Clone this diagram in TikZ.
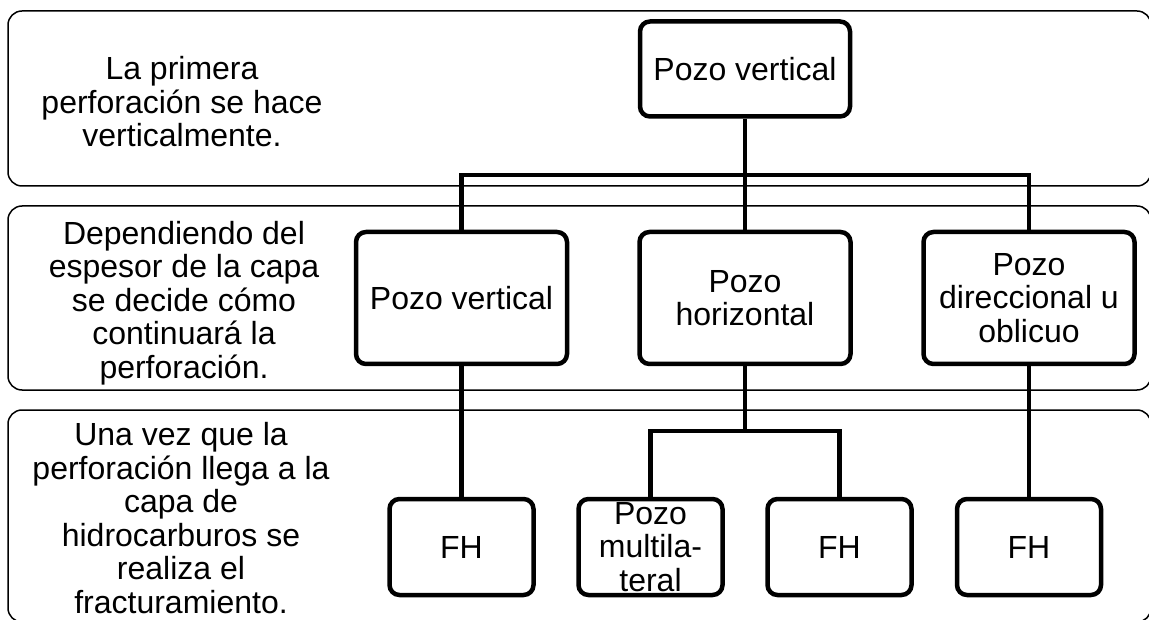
\documentclass[tikz,border=0pt]{standalone}
\usepackage{fontspec}
\setmainfont{Liberation Sans}
\usetikzlibrary{positioning}

\begin{document}
\begin{tikzpicture}[
  x=1pt, y=-1pt,
  band/.style={draw, line width=1.5pt, rounded corners=14pt},
  note/.style={align=center, font=\fontsize{32}{33.5}\selectfont},
  well/.style={draw, line width=4.5pt, rounded corners=10pt, align=center, inner sep=0pt,
    font=\fontsize{32}{33.5}\selectfont},
  wide/.style={well, minimum width=211pt, minimum height=132pt},
  small/.style={well, minimum width=144pt, minimum height=96pt},
  conn/.style={line width=4.5pt}
]
\clip (0,0) rectangle (1149,620);
% bandas de fondo
\draw[band] (8,11) rectangle (1151,186);
\draw[band] (8,206) rectangle (1151,390);
\draw[band] (8,410) rectangle (1151,622);
% textos de la izquierda
\node[note] (t1) at (182,102) {La primera\\perforación se hace\\verticalmente.};
\node[note] (t2) at (184,303) {Dependiendo del\\espesor de la capa\\se decide cómo\\continuará la\\perforación.};
\node[note] (t3) at (181,518) {Una vez que la\\perforación llega a la\\capa de\\hidrocarburos se\\realiza el\\fracturamiento.};
% pozos
\node[well, minimum width=210pt, minimum height=95pt] (top) at (745,69) {Pozo vertical};
\node[wide] (mv) at (461.5,298) {Pozo vertical};
\node[wide] (mh) at (745,298) {Pozo\\horizontal};
\node[wide] (md) at (1029,298) {Pozo\\direccional u\\oblicuo};
\node[small] (fh1) at (461.5,547) {FH};
\node[small] (ml) at (650.5,547) {Pozo\\multila-\\teral};
\node[small] (fh2) at (839.5,547) {FH};
\node[small] (fh3) at (1029,547) {FH};
% conexiones
\coordinate (j1) at (745,175);
\coordinate (j2) at (745,431);
\draw[conn] (top.south) -- (j1);
\draw[conn] (mv.north) |- (j1) -| (md.north);
\draw[conn] (j1) -- (mh.north);
\draw[conn] (mv.south) -- (fh1.north);
\draw[conn] (mh.south) -- (j2);
\draw[conn] (ml.north) |- (j2) -| (fh2.north);
\draw[conn] (md.south) -- (fh3.north);
\end{tikzpicture}
\end{document}
